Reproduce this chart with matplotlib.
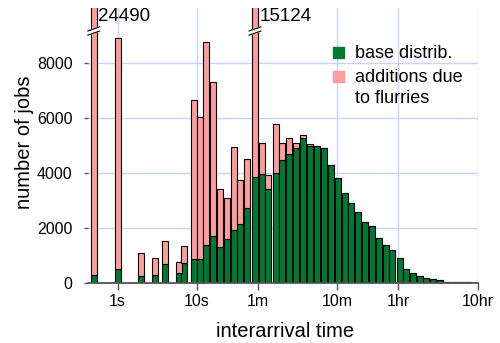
import numpy as np
import matplotlib
matplotlib.use("Agg")
import matplotlib.pyplot as plt
from matplotlib.patches import Rectangle
from matplotlib.ticker import NullLocator

plt.rcParams['font.family'] = ['Liberation Sans', 'DejaVu Sans']

# bin centres (seconds) and job counts
times = [0.5, 1, 2, 3, 4, 6, 7, 9.2, 11, 13, 16, 20, 24.6, 29.7, 36, 44, 55,
         66.5, 81, 100, 121, 150, 183, 223, 274, 338, 410, 498, 611, 750, 911,
         1107, 1358, 1666, 2020, 2478, 3014, 3730, 4535, 5513, 6683, 8128,
         9886, 12130, 14870, 18030, 21930, 26900, 32500]
base = [320, 510, 270, 290, 710, 360, 730, 870, 890, 1390, 1720, 1330, 1600,
        1940, 2150, 2730, 3880, 3970, 3420, 4000, 4480, 4700, 4910, 5270, 4980,
        4990, 4910, 4290, 3820, 3270, 2910, 2580, 2240, 2080, 1660, 1390, 1200,
        930, 510, 360, 280, 190, 145, 110, 60, 50, 40, 30, 20]
total = [24490, 8930, 1090, 910, 1530, 770, 1350, 6670, 6060, 8760, 7310, 3420,
         3090, 4970, 3760, 4530, 15124, 5090, 3940, 5780, 5090, 5300, 5090, 5410,
         5080, 4990, 4910, 4290, 3820, 3270, 2910, 2580, 2240, 2080, 1660, 1390,
         1200, 930, 510, 360, 280, 190, 145, 110, 60, 50, 40, 30, 20]

tick_pos = [1, 10, 60, 600, 3600, 36000]
tick_lab = ['1s', '10s', '1m', '10m', '1hr', '10hr']

green = '#007a33'
pink = '#ff9d9d'
grid_col = '#c6d4ff'
ymax = 10000

t = np.array(times, dtype=float)
b = np.array(base, dtype=float)
tot = np.array(total, dtype=float)
extra = tot - b

half = 10 ** 0.038
left = t / half
width = t * half - t / half

fig = plt.figure(figsize=(5, 3.43), dpi=100)
ax = fig.add_axes([88 / 500, 1 - 283.3 / 343, 389.5 / 500, 275 / 343])
ax.set_xscale('log')

ax.bar(left, b, width, align='edge', color=green, edgecolor='black', linewidth=0.8, zorder=3)
ax.bar(left, extra, width, bottom=b, align='edge', color=pink, edgecolor='black', linewidth=0.8, zorder=3)

ax.set_xlim(0.423, 36000)
ax.set_ylim(0, ymax)
ax.set_xticks(tick_pos)
ax.set_xticklabels(tick_lab)
ax.xaxis.set_minor_locator(NullLocator())
ax.set_yticks([0, 2000, 4000, 6000, 8000])

ax.set_axisbelow(True)
ax.grid(True, color=grid_col, linewidth=1)
for s in ['left', 'top', 'right']:
    ax.spines[s].set_visible(False)
ax.spines['bottom'].set_color('#555555')
ax.spines['bottom'].set_linewidth(1.3)
ax.spines['bottom'].set_zorder(4)

ax.tick_params(axis='y', length=3, width=1, color='#555555', pad=8, labelsize=11.5)
ax.tick_params(axis='x', length=5, width=1, color='#555555', pad=3, labelsize=11.5)

# broken bars
tr = ax.get_xaxis_transform()
w = 10 ** 0.075
yc, g, dy = 0.9175, 0.0075, 0.0075
for c, v in zip(t, tot):
    if v > ymax:
        x0, x1 = c / w, c * w
        ax.fill([x0, x1, x1, x0], [yc - g - dy, yc - g + dy, yc + g + dy, yc + g - dy],
                color='white', transform=tr, zorder=5, clip_on=False)
        ax.plot([x0, x1], [yc - g - dy, yc - g + dy], color='black', lw=0.8, transform=tr, zorder=6, clip_on=False)
        ax.plot([x0, x1], [yc + g - dy, yc + g + dy], color='black', lw=0.8, transform=tr, zorder=6, clip_on=False)
        ax.annotate(f'{int(v)}', xy=(c * half, 1), xycoords=tr, xytext=(1, -6),
                    textcoords='offset points', ha='left', va='center', fontsize=13.5, zorder=7)

# legend
fig.patches.append(Rectangle((333.3 / 500, 1 - 58.3 / 343), 10.7 / 500, 11 / 343,
                             transform=fig.transFigure, color=green))
fig.patches.append(Rectangle((333.3 / 500, 1 - 81.7 / 343), 10.7 / 500, 11 / 343,
                             transform=fig.transFigure, color=pink))
fig.text(355 / 500, 1 - 58.3 / 343, 'base distrib.', fontsize=13, va='baseline')
fig.text(355 / 500, 1 - 81.7 / 343, 'additions due', fontsize=13, va='baseline')
fig.text(355 / 500, 1 - 103.3 / 343, 'to flurries', fontsize=13, va='baseline')

fig.text(29.5 / 500, 1 - 142.5 / 343, 'number of jobs', rotation=90, rotation_mode='anchor',
         ha='center', va='baseline', fontsize=14.5)
fig.text(285.5 / 500, 1 - 336.7 / 343, 'interarrival time', ha='center', va='baseline', fontsize=14.5)

fig.savefig('out.png', dpi=100)
